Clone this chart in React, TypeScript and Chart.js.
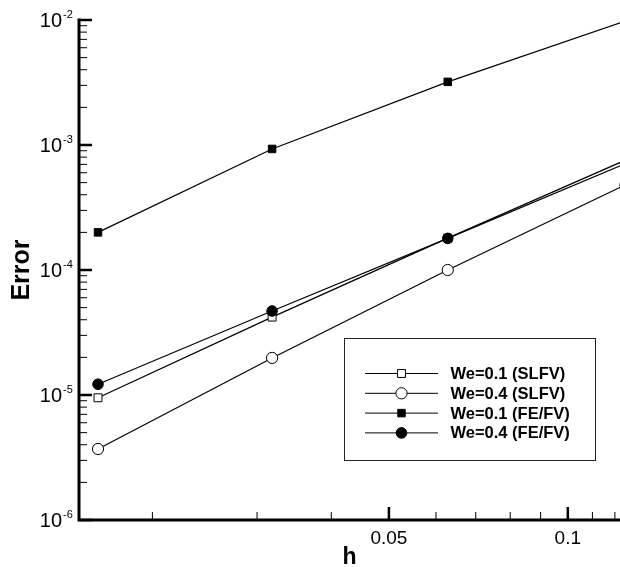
import { useEffect, useRef } from 'react';
import { Chart, registerables } from 'chart.js';

Chart.register(...registerables);

// ---- data ----
const hValues = [0.0162, 0.0318, 0.0628, 0.125];
const seriesLabels = ['We=0.1 (SLFV)', 'We=0.4 (SLFV)', 'We=0.1 (FE/FV)', 'We=0.4 (FE/FV)'];
const slfvWe01 = [9.5e-6, 4.2e-5, 1.8e-4, 7.57e-4];
const slfvWe04 = [3.7e-6, 1.98e-5, 1.0e-4, 4.8e-4];
const fefvWe01 = [2.0e-4, 9.3e-4, 3.2e-3, 9.8e-3];
const fefvWe04 = [1.22e-5, 4.7e-5, 1.79e-4, 7.1e-4];
const yTickExponents = [-6, -5, -4, -3, -2];
const xMajorTicks = [0.05, 0.1];
const xTickLabels = ['0.05', '0.1'];
const xMinorTicks = [0.02, 0.03, 0.04, 0.06, 0.07, 0.08, 0.09, 0.11, 0.12];
const xRange = [0.01505, 0.1224];
const yRange = [1e-6, 1e-2];

const FONT = "'Liberation Sans', Arial, Helvetica, sans-serif";

type MarkerStyle = { shape: 'rect' | 'circle'; filled: boolean; radius: number };
const markerStyles: MarkerStyle[] = [
  { shape: 'rect', filled: false, radius: 5.6 },
  { shape: 'circle', filled: false, radius: 5.6 },
  { shape: 'rect', filled: true, radius: 5.3 },
  { shape: 'circle', filled: true, radius: 5.3 },
];

function drawMarker(ctx: CanvasRenderingContext2D, x: number, y: number, m: MarkerStyle) {
  ctx.save();
  ctx.fillStyle = m.filled ? '#000' : '#fff';
  ctx.strokeStyle = '#000';
  ctx.lineWidth = 1;
  ctx.beginPath();
  if (m.shape === 'rect') {
    const s = Math.SQRT1_2 * m.radius;
    ctx.rect(x - s, y - s, 2 * s, 2 * s);
  } else {
    ctx.arc(x, y, m.radius, 0, Math.PI * 2);
  }
  ctx.fill();
  ctx.stroke();
  ctx.restore();
}

const decoPlugin = {
  id: 'deco',
  afterDraw(chart: any) {
    const { ctx, chartArea: ca, scales } = chart;
    const xs = scales.x;
    const ys = scales.y;
    ctx.save();
    ctx.strokeStyle = '#000';
    ctx.fillStyle = '#000';

    // y ticks
    for (const e of yTickExponents) {
      const v = Math.pow(10, e);
      const py = ys.getPixelForValue(v);
      ctx.lineWidth = 2.5;
      ctx.beginPath();
      ctx.moveTo(ca.left, py);
      ctx.lineTo(ca.left + 13, py);
      ctx.stroke();
      if (e < yTickExponents[yTickExponents.length - 1]) {
        ctx.lineWidth = 1;
        for (let m = 2; m <= 9; m++) {
          const my = ys.getPixelForValue(m * v);
          ctx.beginPath();
          ctx.moveTo(ca.left, my);
          ctx.lineTo(ca.left + 8, my);
          ctx.stroke();
        }
      }
      // label 10^e
      ctx.font = `20px ${FONT}`;
      ctx.textAlign = 'right';
      ctx.textBaseline = 'alphabetic';
      ctx.fillText('10', 62, py + 7);
      ctx.font = `11px ${FONT}`;
      ctx.textAlign = 'left';
      ctx.fillText(String(e), 63, py - 2.5);
    }

    // x ticks
    ctx.lineWidth = 1;
    for (const v of xMinorTicks) {
      const px = xs.getPixelForValue(v);
      ctx.beginPath();
      ctx.moveTo(px, ca.bottom);
      ctx.lineTo(px, ca.bottom - 8);
      ctx.stroke();
    }
    ctx.lineWidth = 2.5;
    xMajorTicks.forEach((v, i) => {
      const px = xs.getPixelForValue(v);
      ctx.beginPath();
      ctx.moveTo(px, ca.bottom);
      ctx.lineTo(px, ca.bottom - 13);
      ctx.stroke();
      ctx.font = `19px ${FONT}`;
      ctx.textAlign = 'center';
      ctx.textBaseline = 'alphabetic';
      ctx.fillText(xTickLabels[i], px, ca.bottom + 23.5);
    });

    // axis lines
    ctx.lineWidth = 3;
    ctx.lineCap = 'square';
    ctx.beginPath();
    ctx.moveTo(ca.left, ca.top);
    ctx.lineTo(ca.left, ca.bottom);
    ctx.lineTo(ca.right + 5, ca.bottom);
    ctx.stroke();

    // legend
    const bx = 344, by = 338, bw = 251, bh = 122;
    ctx.lineCap = 'butt';
    ctx.fillStyle = '#fff';
    ctx.fillRect(bx, by, bw, bh);
    ctx.lineWidth = 1;
    ctx.strokeStyle = '#222';
    ctx.strokeRect(bx + 0.5, by + 0.5, bw, bh);
    ctx.strokeStyle = '#000';
    seriesLabels.forEach((label, i) => {
      const ry = 373.5 + i * 19.8;
      ctx.lineWidth = 1;
      ctx.beginPath();
      ctx.moveTo(365, ry);
      ctx.lineTo(438, ry);
      ctx.stroke();
      drawMarker(ctx, 401.5, ry, markerStyles[i]);
      ctx.fillStyle = '#000';
      ctx.font = `bold 16.5px ${FONT}`;
      ctx.textAlign = 'left';
      ctx.textBaseline = 'middle';
      ctx.fillText(label, 450.5, ry + 1);
    });
    ctx.restore();
  },
};

export default function App() {
  const ref = useRef<HTMLCanvasElement | null>(null);
  useEffect(() => {
    if (!ref.current) return;
    const seriesValues = [slfvWe01, slfvWe04, fefvWe01, fefvWe04];
    const chart = new Chart(ref.current, {
      type: 'line',
      data: {
        datasets: seriesValues.map((vals, i) => ({
          label: seriesLabels[i],
          data: vals.map((v, j) => ({ x: hValues[j], y: v })),
          borderColor: '#000',
          borderWidth: 1.2,
          fill: false,
          tension: 0,
          pointStyle: markerStyles[i].shape,
          pointRadius: markerStyles[i].radius,
          pointBackgroundColor: markerStyles[i].filled ? '#000' : '#fff',
          pointBorderColor: '#000',
          pointBorderWidth: 1,
          order: i === 3 ? -1 : 0,
        })),
      },
      options: {
        responsive: false,
        animation: false,
        layout: { autoPadding: false, padding: { top: 20, right: 0, left: 0, bottom: 0 } },
        plugins: { legend: { display: false }, tooltip: { enabled: false } },
        scales: {
          x: {
            type: 'logarithmic',
            min: xRange[0],
            max: xRange[1],
            grid: { display: false },
            border: { display: false },
            ticks: { display: false },
            title: {
              display: true,
              text: 'h',
              color: '#000',
              font: { family: FONT, size: 23, weight: 'bold', lineHeight: 0.8 },
              padding: { top: 0, bottom: 0 },
            },
            afterFit: (s: any) => {
              s.height = 47;
            },
          },
          y: {
            type: 'logarithmic',
            min: yRange[0],
            max: yRange[1],
            grid: { display: false },
            border: { display: false },
            ticks: { display: false },
            title: {
              display: true,
              text: 'Error',
              color: '#000',
              font: { family: FONT, size: 25, weight: 'bold', lineHeight: 1.2 },
              padding: { top: 7, bottom: 0 },
            },
            afterFit: (s: any) => {
              s.width = 79;
            },
          },
        },
      },
      plugins: [decoPlugin],
    } as any);
    return () => chart.destroy();
  }, []);
  return (
    <div style={{ position: 'absolute', left: 0, top: 0, width: 620, height: 567, background: '#fff' }}>
      <canvas ref={ref} width={620} height={567} style={{ display: 'block' }} />
    </div>
  );
}
